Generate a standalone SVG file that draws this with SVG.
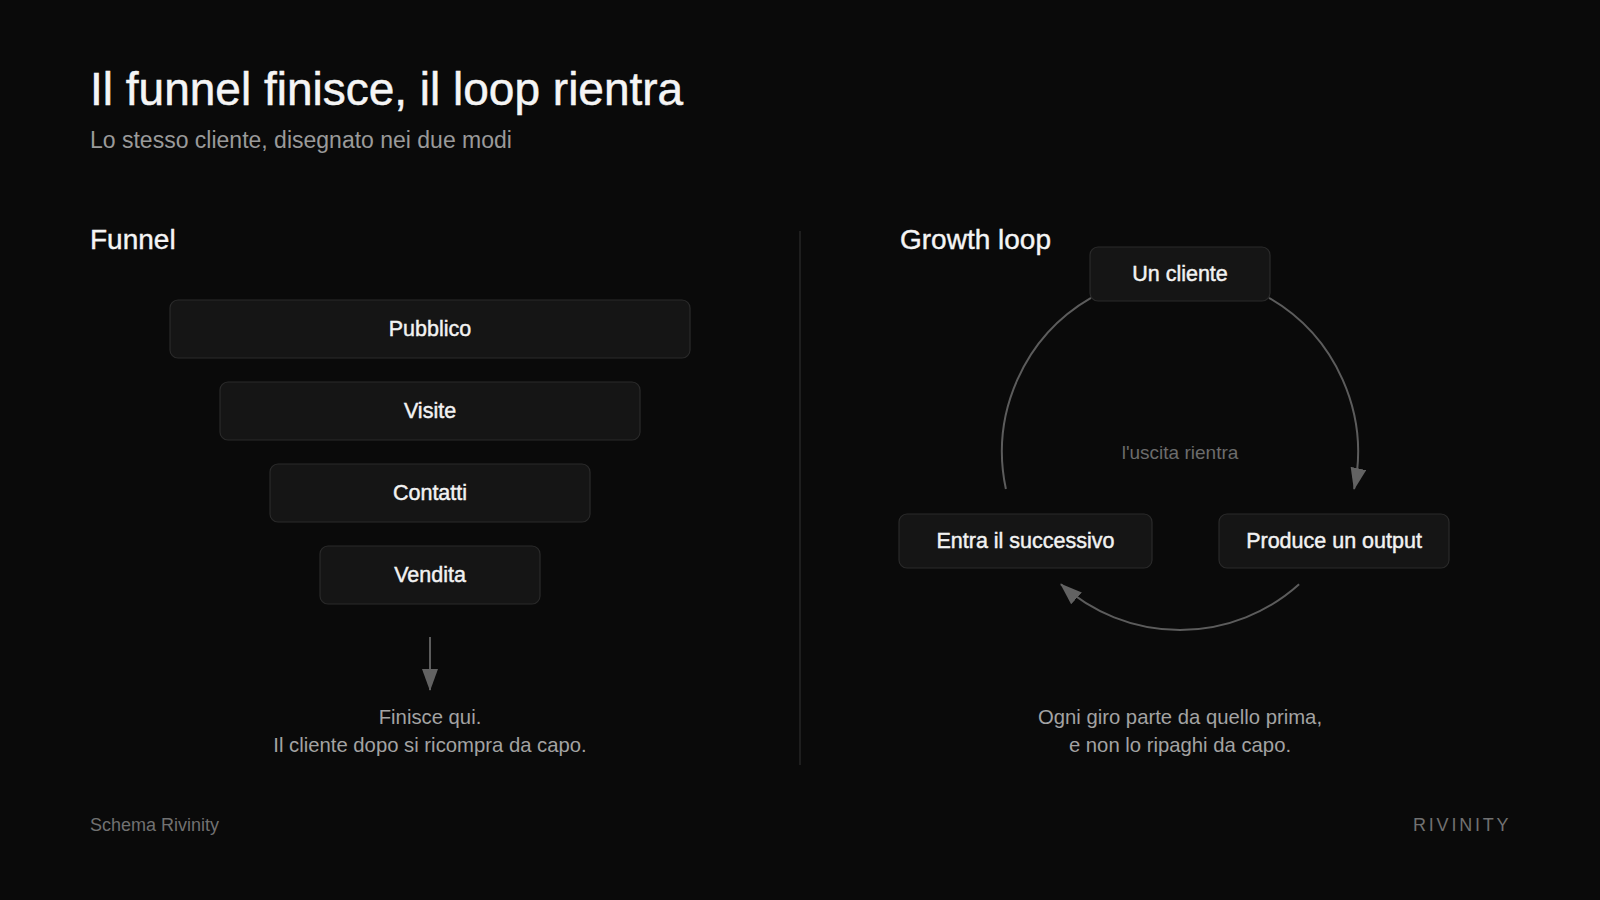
<svg xmlns="http://www.w3.org/2000/svg" width="1600" height="900" viewBox="0 0 1600 900">
  <defs>
    <style>
      .t { font-family: "Liberation Sans", Arial, sans-serif; }
      .title { font-size: 46px; fill: #f5f5f5; stroke: #f5f5f5; stroke-width: 0.5px; }
      .sub { font-size: 23px; fill: #9a9a9a; }
      .head { font-size: 28px; fill: #f5f5f5; stroke: #f5f5f5; stroke-width: 0.4px; }
      .box { fill: #151515; stroke: #2a2a2a; stroke-width: 1.2; }
      .lbl { font-size: 21.5px; fill: #f2f2f2; stroke: #f2f2f2; stroke-width: 0.45px; text-anchor: middle; }
      .cap { font-size: 20.3px; fill: #a3a3a3; text-anchor: middle; }
      .mid { font-size: 19px; fill: #6c6c6c; text-anchor: middle; }
      .conn { fill: none; stroke: #5c5c5c; stroke-width: 2; }
      .foot { font-size: 18px; fill: #717171; }
    </style>
    <marker id="arr" viewBox="0 0 22 16" refX="21" refY="8" markerWidth="22" markerHeight="16" markerUnits="userSpaceOnUse" orient="auto">
      <path d="M0,0 L22,8 L0,16 z" fill="#626262"/>
    </marker>
  </defs>
  <rect x="0" y="0" width="1600" height="900" fill="#0a0a0a"/>

  <g id="header">
    <text class="t title" x="90" y="105">Il funnel finisce, il loop rientra</text>
    <text class="t sub" x="90" y="148">Lo stesso cliente, disegnato nei due modi</text>
  </g>

  <g id="section-funnel">
    <text class="t head" x="90" y="249">Funnel</text>
  </g>
  <g id="section-loop">
    <text class="t head" x="900" y="249">Growth loop</text>
  </g>

  <line id="divider" x1="800" y1="231" x2="800" y2="765" stroke="#262626" stroke-width="1.5"/>

  <g id="connectors">
    <line class="conn" x1="430" y1="637" x2="430" y2="690" marker-end="url(#arr)"/>
    <path class="conn" d="M1269,297.85 A178,178 0 0 1 1354.11,489.01" marker-end="url(#arr)"/>
    <path class="conn" d="M1299.11,584.28 A178,178 0 0 1 1060.89,584.28" marker-end="url(#arr)"/>
    <path class="conn" d="M1005.89,489.01 A178,178 0 0 1 1091,297.85"/>
  </g>

  <g id="node-pubblico">
    <rect class="box" x="170" y="300" width="520" height="58" rx="8"/>
    <text class="t lbl" x="430" y="335.5">Pubblico</text>
  </g>
  <g id="node-visite">
    <rect class="box" x="220" y="382" width="420" height="58" rx="8"/>
    <text class="t lbl" x="430" y="417.5">Visite</text>
  </g>
  <g id="node-contatti">
    <rect class="box" x="270" y="464" width="320" height="58" rx="8"/>
    <text class="t lbl" x="430" y="499.5">Contatti</text>
  </g>
  <g id="node-vendita">
    <rect class="box" x="320" y="546" width="220" height="58" rx="8"/>
    <text class="t lbl" x="430" y="581.5">Vendita</text>
  </g>

  <g id="funnel-caption">
    <text class="t cap" x="430" y="724">Finisce qui.</text>
    <text class="t cap" x="430" y="752">Il cliente dopo si ricompra da capo.</text>
  </g>

  <g id="node-un-cliente">
    <rect class="box" x="1090" y="247" width="180" height="54" rx="8"/>
    <text class="t lbl" x="1180" y="280.5">Un cliente</text>
  </g>
  <g id="node-produce">
    <rect class="box" x="1219" y="514" width="230" height="54" rx="8"/>
    <text class="t lbl" x="1334" y="547.5">Produce un output</text>
  </g>
  <g id="node-entra">
    <rect class="box" x="899" y="514" width="253" height="54" rx="8"/>
    <text class="t lbl" x="1025.5" y="547.5">Entra il successivo</text>
  </g>

  <g id="loop-center">
    <text class="t mid" x="1180" y="458.5">l'uscita rientra</text>
  </g>

  <g id="loop-caption">
    <text class="t cap" x="1180" y="724">Ogni giro parte da quello prima,</text>
    <text class="t cap" x="1180" y="752">e non lo ripaghi da capo.</text>
  </g>

  <g id="footer">
    <text class="t foot" x="90" y="831">Schema Rivinity</text>
    <text class="t foot" x="1413" y="831" letter-spacing="2.8" fill="#777777">RIVINITY</text>
  </g>
</svg>
